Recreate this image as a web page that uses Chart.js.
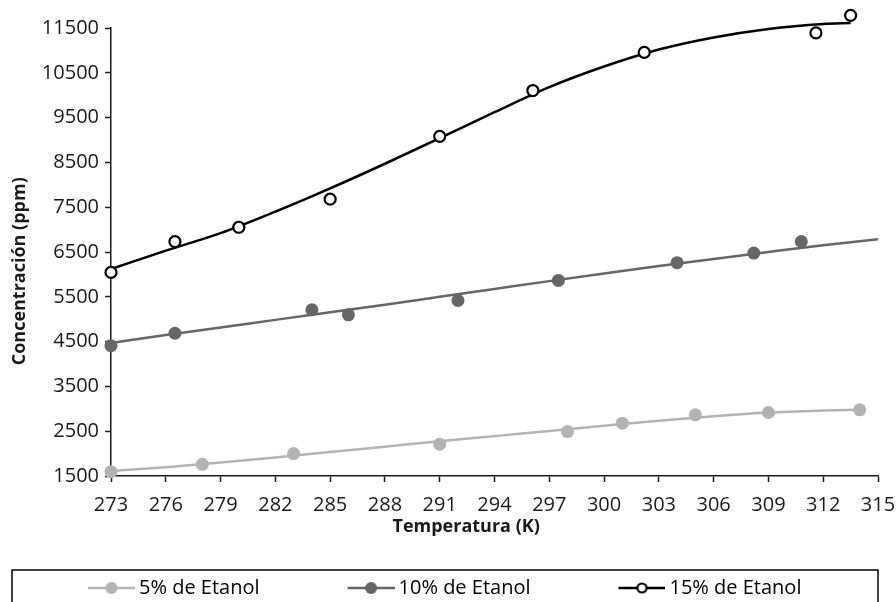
<!DOCTYPE html>
<html lang="es">
<head>
<meta charset="utf-8">
<title>Concentración vs Temperatura</title>
<script src="https://cdn.jsdelivr.net/npm/chart.js@4.4.1/dist/chart.umd.min.js"></script>
<style>
  html, body { margin: 0; padding: 0; background: #fff; }
  #chart { display: block; }
</style>
</head>
<body>
<canvas id="chart" width="896" height="602"></canvas>
<script>
// measured points
const seriesNames = ["5% de Etanol", "10% de Etanol", "15% de Etanol"];

const temp5 = [273, 278, 283, 291, 298, 301, 305, 309, 314];
const conc5 = [1596, 1760, 2000, 2210, 2492, 2679, 2866, 2918, 2978];

const temp10 = [273, 276.5, 284, 286, 292, 297.5, 304, 308.2, 310.8];
const conc10 = [4410, 4686, 5209, 5097, 5418, 5865, 6261, 6477, 6735];

const temp15 = [273, 276.5, 280, 285, 291, 296.1, 302.2, 311.6, 313.5];
const conc15 = [6045, 6732, 7052, 7679, 9082, 10104, 10955, 11390, 11780];

// trend lines
const fitTemp5 = [273, 276, 279, 282, 285, 288, 291, 294, 297, 300, 303, 306, 309, 312, 314];
const fit5 = [1610, 1695, 1800, 1915, 2035, 2155, 2275, 2390, 2505, 2620, 2735, 2835, 2915, 2960, 2980];

const fitTemp10 = [273, 276, 279, 282, 285, 288, 291, 294, 297, 300, 303, 306, 309, 312, 315];
const fit10 = [4470, 4645, 4815, 4985, 5155, 5325, 5500, 5675, 5850, 6020, 6185, 6345, 6500, 6650, 6785];

const fitTemp15 = [273, 276, 279, 282, 285, 288, 291, 294, 297, 300, 303, 306, 309, 312, 313.5];
const fit15 = [6120, 6530, 6920, 7400, 7920, 8470, 9040, 9620, 10180, 10640, 11020, 11290, 11480, 11590, 11612];

const xTickValues = [273, 276, 279, 282, 285, 288, 291, 294, 297, 300, 303, 306, 309, 312, 315];
const yTickValues = [1500, 2500, 3500, 4500, 5500, 6500, 7500, 8500, 9500, 10500, 11500];

const colors = ["#b3b3b3", "#666666", "#000000"];
const axisColor = "#1a1a1a";
const textColor = "#1a1a1a";
const fontFamily = "'Open Sans'";

function pairs(xs, ys) {
	return xs.map((x, i) => ({ x: x, y: ys[i] }));
}

// legend marker: short line with a circle, drawn into a small canvas
function legendMarker(color, open) {
	const c = document.createElement("canvas");
	c.width = 101;
	c.height = 16;
	const g = c.getContext("2d");
	const x0 = 101 - 47;
	g.strokeStyle = color;
	g.lineWidth = 2.5;
	g.beginPath();
	g.moveTo(x0, 8);
	g.lineTo(101, 8);
	g.stroke();
	g.beginPath();
	if (open) {
		g.arc(x0 + 23.5, 8, 4.5, 0, Math.PI * 2);
		g.fillStyle = "#fff";
		g.fill();
		g.lineWidth = 2.2;
		g.stroke();
	} else {
		g.arc(x0 + 23.5, 8, 6, 0, Math.PI * 2);
		g.fillStyle = color;
		g.fill();
	}
	return c;
}

const markers = [legendMarker(colors[0], false), legendMarker(colors[1], false), legendMarker(colors[2], true)];

const pointSet = (i, xs, ys) => ({
	label: seriesNames[i],
	data: pairs(xs, ys),
	showLine: false,
	pointRadius: i === 2 ? 5.5 : 6.5,
	pointHoverRadius: i === 2 ? 5.5 : 6.5,
	pointBackgroundColor: i === 2 ? "#fff" : colors[i],
	pointBorderColor: colors[i],
	pointBorderWidth: i === 2 ? 2.2 : 0,
	clip: false,
});

const trendSet = (i, xs, ys) => ({
	label: seriesNames[i] + " (tendencia)",
	data: pairs(xs, ys),
	showLine: true,
	borderColor: colors[i],
	borderWidth: 2.5,
	pointRadius: 0,
	cubicInterpolationMode: "monotone",
	fill: false,
	clip: false,
});

const data = {
	datasets: [
		pointSet(0, temp5, conc5),
		pointSet(1, temp10, conc10),
		pointSet(2, temp15, conc15),
		trendSet(0, fitTemp5, fit5),
		trendSet(1, fitTemp10, fit10),
		trendSet(2, fitTemp15, fit15),
	],
};

// let points just above the top tick still be drawn
const openArea = {
	id: "openArea",
	beforeDatasetsDraw(chart) {
		chart._keptArea = chart.chartArea;
		chart.chartArea = Object.assign({}, chart.chartArea, { top: 0, left: 0, right: chart.width, bottom: chart.height });
	},
	afterDatasetsDraw(chart) {
		chart.chartArea = chart._keptArea;
	},
};

// axis titles and legend frame
const extras = {
	id: "extras",
	afterDraw(chart) {
		const { ctx, chartArea } = chart;
		ctx.save();
		ctx.fillStyle = textColor;
		ctx.font = "bold 18px " + fontFamily;
		ctx.textAlign = "center";
		ctx.textBaseline = "middle";
		ctx.fillText("Temperatura (K)", chartArea.left + chartArea.width * 0.463, 527);

		ctx.translate(20, chartArea.top + chartArea.height * 0.543);
		ctx.rotate(-Math.PI / 2);
		ctx.fillText("Concentración (ppm)", 0, 0);
		ctx.restore();

		const box = chart.legend.legendHitBoxes[0];
		const cy = box.top + box.height / 2;
		ctx.save();
		ctx.strokeStyle = "#000";
		ctx.lineWidth = 1.5;
		ctx.strokeRect(12, cy - 18, 866, 60);
		ctx.restore();
	},
};

const options = {
	responsive: false,
	animation: false,
	layout: {
		padding: { top: 28, right: 18, left: 0, bottom: -6 },
	},
	plugins: {
		tooltip: { enabled: false },
		legend: {
			position: "bottom",
			align: "start",
			labels: {
				color: textColor,
				font: { family: fontFamily, size: 20 },
				padding: 40,
				usePointStyle: true,
				pointStyleWidth: 89,
				generateLabels: () =>
					seriesNames.map((name, i) => ({
						text: name,
						pointStyle: markers[i],
						fillStyle: colors[i],
						strokeStyle: colors[i],
						lineWidth: 0,
						hidden: false,
						datasetIndex: i,
					})),
			},
		},
	},
	scales: {
		x: {
			type: "linear",
			min: 273,
			max: 315,
			afterBuildTicks: (s) => { s.ticks = xTickValues.map((v) => ({ value: v })); },
			afterFit: (s) => {
				s.height = 62;
				s.paddingLeft = 0;
				s.paddingRight = 0;
			},
			border: { display: true, color: axisColor, width: 1.5 },
			grid: { drawOnChartArea: false, drawTicks: true, tickLength: 6, tickColor: axisColor, tickWidth: 1.5 },
			ticks: {
				color: textColor,
				font: { family: fontFamily, size: 20 },
				padding: 11,
				maxRotation: 0,
				autoSkip: false,
				callback: (v) => String(v),
			},
		},
		y: {
			type: "linear",
			min: 1500,
			max: 11500,
			afterBuildTicks: (s) => { s.ticks = yTickValues.map((v) => ({ value: v })); },
			afterFit: (s) => { s.width = 111; },
			border: { display: true, color: axisColor, width: 1.5 },
			grid: { drawOnChartArea: false, drawTicks: true, tickLength: 6, tickColor: axisColor, tickWidth: 1.5 },
			ticks: {
				color: textColor,
				font: { family: fontFamily, size: 20 },
				padding: 6,
				autoSkip: false,
				callback: (v) => String(v),
			},
		},
	},
};

const config = {
	type: "scatter",
	data: data,
	options: options,
	plugins: [openArea, extras],
};

new Chart(document.getElementById("chart"), config);
</script>
</body>
</html>
